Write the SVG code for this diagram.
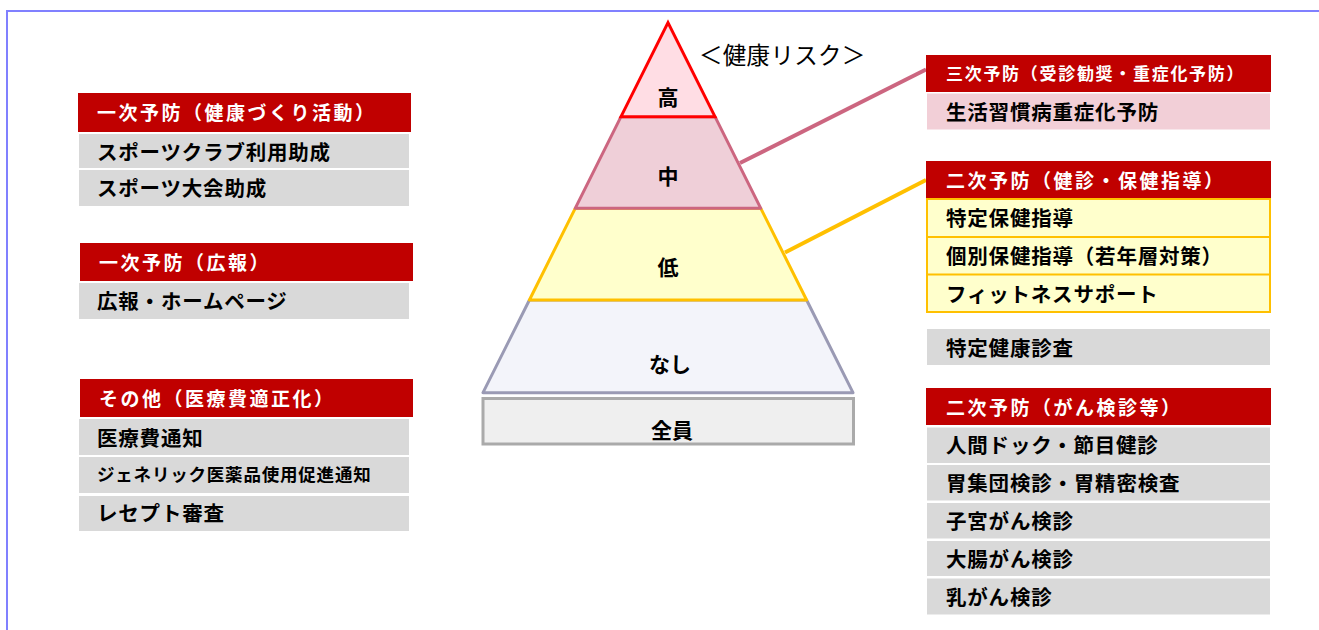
<svg xmlns="http://www.w3.org/2000/svg" width="1319" height="630" viewBox="0 0 1319 630">
<style>
text{font-family:"Noto Sans CJK JP","Noto Sans",sans-serif;font-weight:bold;fill:#000}
.hd{fill:#c00000}
.hdt{fill:#fff;font-size:19px;letter-spacing:2.5px}
.hdr{fill:#fff;font-size:17px;letter-spacing:1.7px}
.gr{fill:#d9d9d9}
.rt{font-size:20.5px;letter-spacing:0.8px}
.pyr{font-size:21px;text-anchor:middle}
</style>
<rect x="0" y="0" width="1319" height="630" fill="#fff"/>
<path d="M7,640 V11 H1330" fill="none" stroke="#8080ff" stroke-width="2"/>

<g id="left-ichiji-kenko">
<rect class="hd" x="78" y="93" width="333" height="39"/>
<text class="hdt" x="97" y="120">一次予防（健康づくり活動）</text>
<rect class="gr" x="79" y="134" width="330" height="34"/>
<text class="rt" x="97" y="160">スポーツクラブ利用助成</text>
<rect class="gr" x="79" y="170" width="330" height="36"/>
<text class="rt" x="97" y="196">スポーツ大会助成</text>
</g>

<g id="left-ichiji-koho">
<rect class="hd" x="80" y="243" width="333" height="38"/>
<text class="hdt" x="99" y="270">一次予防（広報）</text>
<rect class="gr" x="79" y="283" width="330" height="36"/>
<text class="rt" x="97" y="309">広報・ホームページ</text>
</g>

<g id="left-sonota">
<rect class="hd" x="80" y="379" width="333" height="38"/>
<text class="hdt" x="99" y="406">その他（医療費適正化）</text>
<rect class="gr" x="79" y="419" width="330" height="36"/>
<text class="rt" x="97" y="446">医療費通知</text>
<rect class="gr" x="79" y="457" width="330" height="36"/>
<text x="97" y="481" style="font-size:17.5px;letter-spacing:0.8px">ジェネリック医薬品使用促進通知</text>
<rect class="gr" x="79" y="496" width="330" height="35"/>
<text class="rt" x="97" y="521">レセプト審査</text>
</g>

<g id="pyramid">
<polygon points="483,392.7 853,392.7 806.6,300 529.4,300" fill="#f3f4fa" stroke="#9a9ab4" stroke-width="3" stroke-linejoin="round"/>
<polygon points="529.4,300 806.6,300 760.8,208.3 575.2,208.3" fill="#ffffcc" stroke="#ffc000" stroke-width="3" stroke-linejoin="round"/>
<polygon points="575.2,208.3 760.8,208.3 715,116.7 621,116.7" fill="#efcfd8" stroke="#cc6680" stroke-width="3" stroke-linejoin="round"/>
<polygon points="668,22.7 715,116.7 621,116.7" fill="#ffdde4" stroke="#ff0000" stroke-width="3" stroke-linejoin="miter"/>
<rect x="483" y="398.5" width="370.5" height="45.5" fill="#efefef" stroke="#aaaaaa" stroke-width="3"/>
<text class="pyr" x="668" y="105">高</text>
<text class="pyr" x="668" y="184">中</text>
<text class="pyr" x="668" y="275">低</text>
<text class="pyr" x="670" y="372">なし</text>
<text class="pyr" x="672" y="438">全員</text>
<text x="699" y="64" style="font-weight:normal;font-size:23.5px;letter-spacing:0.3px">＜健康リスク＞</text>
</g>

<g id="connectors" fill="none" stroke-width="4">
<line x1="740" y1="163" x2="926" y2="69.5" stroke="#cc6680"/>
<line x1="785" y1="252.5" x2="926" y2="180" stroke="#ffc000"/>
</g>

<g id="right-sanji">
<rect class="hd" x="926" y="55" width="345" height="37"/>
<text class="hdr" x="946" y="80">三次予防（受診勧奨・重症化予防）</text>
<rect x="927" y="93.5" width="343" height="36" fill="#f2cfd7"/>
<text class="rt" x="946" y="120">生活習慣病重症化予防</text>
</g>

<g id="right-niji-kenshin">
<rect class="hd" x="926" y="161" width="345" height="37.5"/>
<text class="hdt" x="946" y="188">二次予防（健診・保健指導）</text>
<rect x="927" y="199" width="343" height="113" fill="#ffffcc" stroke="#ffc000" stroke-width="2"/>
<line x1="927" y1="237" x2="1270" y2="237" stroke="#ffc000" stroke-width="2"/>
<line x1="927" y1="274.5" x2="1270" y2="274.5" stroke="#ffc000" stroke-width="2"/>
<text class="rt" x="946" y="226">特定保健指導</text>
<text class="rt" x="946" y="264">個別保健指導（若年層対策）</text>
<text class="rt" x="946" y="302">フィットネスサポート</text>
</g>

<g id="right-tokutei">
<rect class="gr" x="927" y="329" width="343" height="36"/>
<text class="rt" x="946" y="356">特定健康診査</text>
</g>

<g id="right-niji-gan">
<rect class="hd" x="926" y="388" width="345" height="37"/>
<text class="hdt" x="946" y="415">二次予防（がん検診等）</text>
<rect class="gr" x="927" y="427.5" width="343" height="35.5"/>
<text class="rt" x="946" y="453">人間ドック・節目健診</text>
<rect class="gr" x="927" y="465" width="343" height="35.5"/>
<text class="rt" x="946" y="491">胃集団検診・胃精密検査</text>
<rect class="gr" x="927" y="503" width="343" height="35.5"/>
<text class="rt" x="946" y="529">子宮がん検診</text>
<rect class="gr" x="927" y="541" width="343" height="35"/>
<text class="rt" x="946" y="567">大腸がん検診</text>
<rect class="gr" x="927" y="578.5" width="343" height="36"/>
<text class="rt" x="946" y="605">乳がん検診</text>
</g>
</svg>
